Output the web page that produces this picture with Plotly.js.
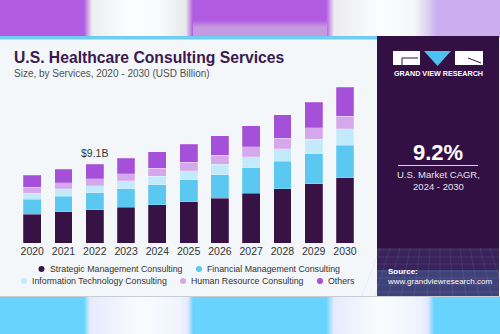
<!DOCTYPE html>
<html><head><meta charset="utf-8">
<script src="https://cdn.plot.ly/plotly-3.0.1.min.js"></script>
<style>
html,body{margin:0;padding:0;width:500px;height:334px;overflow:hidden;}
#wrap{position:relative;width:500px;height:334px;}
#bgtop{position:absolute;left:0;top:0;width:500px;height:38px;
background:linear-gradient(90deg,#b05be0 0px,#b05be0 84px,#eceef0 92px,#fbfdfe 130px,#f8fafb 160px,#e6e8ea 186px,#b05be0 193px,#b05be0 326px,#ecebee 334px,#fbfdfe 380px,#f4f6f8 415px,#dcd0f0 428px,#cbaef0 436px,#cbaef0 500px);}
#bgtop2{position:absolute;left:193px;top:20px;width:134px;height:18px;background:linear-gradient(180deg,rgba(200,160,225,0) 0%,rgba(200,160,225,0.9) 40%,rgba(200,160,225,0.9) 100%);}
#bgbot{position:absolute;left:0;top:296px;width:500px;height:38px;
background:linear-gradient(90deg,#68d4fe 0px,#68d4fe 84px,#e6eafc 90px,#fafcfe 140px,#f0f4fe 180px,#e4e8fc 188px,#68d4fe 193px,#68d4fe 326px,#e4ecfc 334px,#fafdfe 380px,#eef2fd 420px,#e4e8fc 428px,#68d4fe 434px,#68d4fe 500px);}
#chart{position:absolute;left:0;top:0;width:500px;height:334px;}
</style>
</head><body>
<div id="wrap"><div id="bgtop"></div><div id="bgtop2"></div><div id="bgbot"></div><div id="chart"></div></div>
<script>
// ---- data ----
const years = ["2020","2021","2022","2023","2024","2025","2026","2027","2028","2029","2030"];
const seriesNames = ["Strategic Management Consulting","Financial Management Consulting","Information Technology Consulting","Human Resource Consulting","Others"];
const strategic = [3.34,3.61,3.84,4.15,4.45,4.80,5.22,5.76,6.26,6.84,7.56];
const financial = [1.73,1.80,1.96,2.11,2.27,2.50,2.69,2.92,3.19,3.49,3.72];
const infoTech  = [0.69,0.88,0.84,0.92,1.00,1.08,1.19,1.31,1.42,1.65,1.92];
const humanRes  = [0.69,0.69,0.81,0.81,0.92,0.96,1.04,1.11,1.23,1.31,1.46];
const others    = [1.42,1.54,1.65,1.80,1.92,2.07,2.27,2.42,2.73,2.96,3.30];
const calloutYear = "2022";
const calloutText = "$9.1B";
const cagrText = "9.2%";
const cagrLabel = "U.S. Market CAGR,<br>2024 - 2030";

// ---- styles ----
const colors = ["#361245","#5bc8f2","#c3eafa","#d5a8ec","#a550d8"];
const FONT='Liberation Sans, Arial, sans-serif';
const W=500,H=334;
const PX=x=>x/W, PY=y=>1-y/H;
const values=[strategic,financial,infoTech,humanRes,others];

const traces = values.map((v,i)=>({
  type:'bar', x:years, y:v, name:seriesNames[i],
  marker:{color:colors[i], line:{color:'rgba(255,255,255,0.35)',width:0.6}},
  hoverinfo:'x+y', showlegend:false
}));

const ci = years.indexOf(calloutYear);
const calloutTotal = values.reduce((s,a)=>s+a[ci],0);

const shapes = [
  {type:'rect',xref:'paper',yref:'paper',x0:PX(0),x1:PX(378),y0:PY(296),y1:PY(36),fillcolor:'#f3f7fa',line:{width:0},layer:'below'},
  {type:'line',xref:'paper',yref:'paper',x0:PX(0),x1:PX(500),y0:PY(296.5),y1:PY(296.5),line:{color:'#c9ccd2',width:1},layer:'below'},
  {type:'rect',xref:'paper',yref:'paper',x0:PX(0),x1:PX(378),y0:PY(39.5),y1:PY(36),fillcolor:'#6ecdf0',line:{width:0},layer:'below'},
  {type:'rect',xref:'paper',yref:'paper',x0:PX(377),x1:PX(499),y0:PY(296),y1:PY(36),fillcolor:'#321043',line:{width:0},layer:'below'},
  {type:'rect',xref:'paper',yref:'paper',x0:PX(377),x1:PX(499),y0:PY(296),y1:PY(270),fillcolor:'rgba(90,160,220,0.35)',line:{width:0},layer:'below'},
  {type:'rect',xref:'paper',yref:'paper',x0:PX(377),x1:PX(499),y0:PY(270),y1:PY(248),fillcolor:'rgba(90,120,200,0.18)',line:{width:0},layer:'below'},
  {type:'rect',xref:'paper',yref:'paper',x0:PX(393),x1:PX(420),y0:PY(65),y1:PY(51),fillcolor:'#ffffff',line:{width:0}},
  {type:'line',xref:'paper',yref:'paper',x0:PX(402),x1:PX(418),y0:PY(58),y1:PY(58),line:{color:'#321043',width:1}},
  {type:'line',xref:'paper',yref:'paper',x0:PX(402),x1:PX(402),y0:PY(58),y1:PY(65),line:{color:'#321043',width:1}},
  {type:'path',xref:'paper',yref:'paper',path:`M ${PX(424)} ${PY(51)} L ${PX(451)} ${PY(51)} L ${PX(437.5)} ${PY(66)} Z`,fillcolor:'#4cc3ee',line:{width:0}},
  {type:'rect',xref:'paper',yref:'paper',x0:PX(455),x1:PX(483),y0:PY(65),y1:PY(51),fillcolor:'#ffffff',line:{width:0}},
  {type:'line',xref:'paper',yref:'paper',x0:PX(468),x1:PX(481),y0:PY(58),y1:PY(63),line:{color:'#321043',width:1}},
  {type:'line',xref:'paper',yref:'paper',x0:PX(398),x1:PX(478),y0:PY(165.5),y1:PY(165.5),line:{color:'#d8d0e0',width:1}}
];
for(let k=0;k<7;k++){
  const y=250+k*7;
  shapes.push({type:'line',xref:'paper',yref:'paper',x0:PX(377),x1:PX(499),y0:PY(y),y1:PY(y),line:{color:'rgba(150,170,230,0.25)',width:0.6}});
}
for(let k=0;k<13;k++){
  const x=380+k*10;
  shapes.push({type:'line',xref:'paper',yref:'paper',x0:PX(x),x1:PX(x+(k-6)*3),y0:PY(248),y1:PY(296),line:{color:'rgba(150,170,230,0.22)',width:0.6}});
}

const annotations = [
  {xref:'paper',yref:'paper',x:PX(12),y:PY(57.5),xanchor:'left',yanchor:'middle',showarrow:false,
   text:'<b>U.S. Healthcare Consulting Services</b>',font:{family:FONT,size:15.7,color:'#3a1a50'}},
  {xref:'paper',yref:'paper',x:PX(12),y:PY(73),xanchor:'left',yanchor:'middle',showarrow:false,
   text:'Size, by Services, 2020 - 2030 (USD Billion)',font:{family:FONT,size:10,color:'#505050'}},
  {x:ci,y:calloutTotal,xref:'x',yref:'y',yanchor:'bottom',yshift:3,showarrow:false,text:calloutText,
   font:{family:FONT,size:10.5,color:'#333'}},
  {xref:'paper',yref:'paper',x:PX(438),y:PY(73),xanchor:'center',yanchor:'middle',showarrow:false,
   text:'<b>GRAND VIEW RESEARCH</b>',font:{family:FONT,size:7.2,color:'#ffffff'}},
  {xref:'paper',yref:'paper',x:PX(438),y:PY(152),xanchor:'center',yanchor:'middle',showarrow:false,
   text:'<b>'+cagrText+'</b>',font:{family:FONT,size:22,color:'#ffffff'}},
  {xref:'paper',yref:'paper',x:PX(438),y:PY(180),xanchor:'center',yanchor:'middle',showarrow:false,
   text:cagrLabel,font:{family:FONT,size:9.5,color:'#e8e2ee'}},
  {xref:'paper',yref:'paper',x:PX(385),y:PY(276.5),xanchor:'left',yanchor:'middle',showarrow:false,align:'left',
   text:'<b>Source:</b><br>www.grandviewresearch.com',font:{family:FONT,size:8,color:'#ffffff'}}
];

const legendPos = [[41.5,269],[199,269],[24,281],[183,281],[320,281]];
seriesNames.forEach((n,i)=>{
  const [lx,ly]=legendPos[i];
  shapes.push({type:'circle',xref:'paper',yref:'paper',x0:PX(lx-3),x1:PX(lx+3),y0:PY(ly+3),y1:PY(ly-3),fillcolor:colors[i],line:{width:0}});
  annotations.push({xref:'paper',yref:'paper',x:PX(lx+6),y:PY(ly),xanchor:'left',yanchor:'middle',showarrow:false,
    text:n,font:{family:FONT,size:8.8,color:'#333'}});
});

const layout = {
  width:W,height:H,margin:{l:0,r:0,t:0,b:0},
  paper_bgcolor:'rgba(0,0,0,0)',plot_bgcolor:'rgba(0,0,0,0)',
  barmode:'stack',bargap:0.43,
  xaxis:{domain:[PX(16.6),PX(360.6)],type:'category',range:[-0.5,10.5],showgrid:false,zeroline:false,showline:false,
    ticks:'',tickfont:{family:FONT,size:10.5,color:'#333'},ticklabelstandoff:0},
  yaxis:{domain:[PY(243.3),PY(85)],range:[0,18.24],visible:false,showgrid:false,zeroline:false},
  shapes:shapes,annotations:annotations,showlegend:false,
  font:{family:FONT}
};
Plotly.newPlot('chart',traces,layout,{displayModeBar:false,staticPlot:true});
</script>
</body></html>
